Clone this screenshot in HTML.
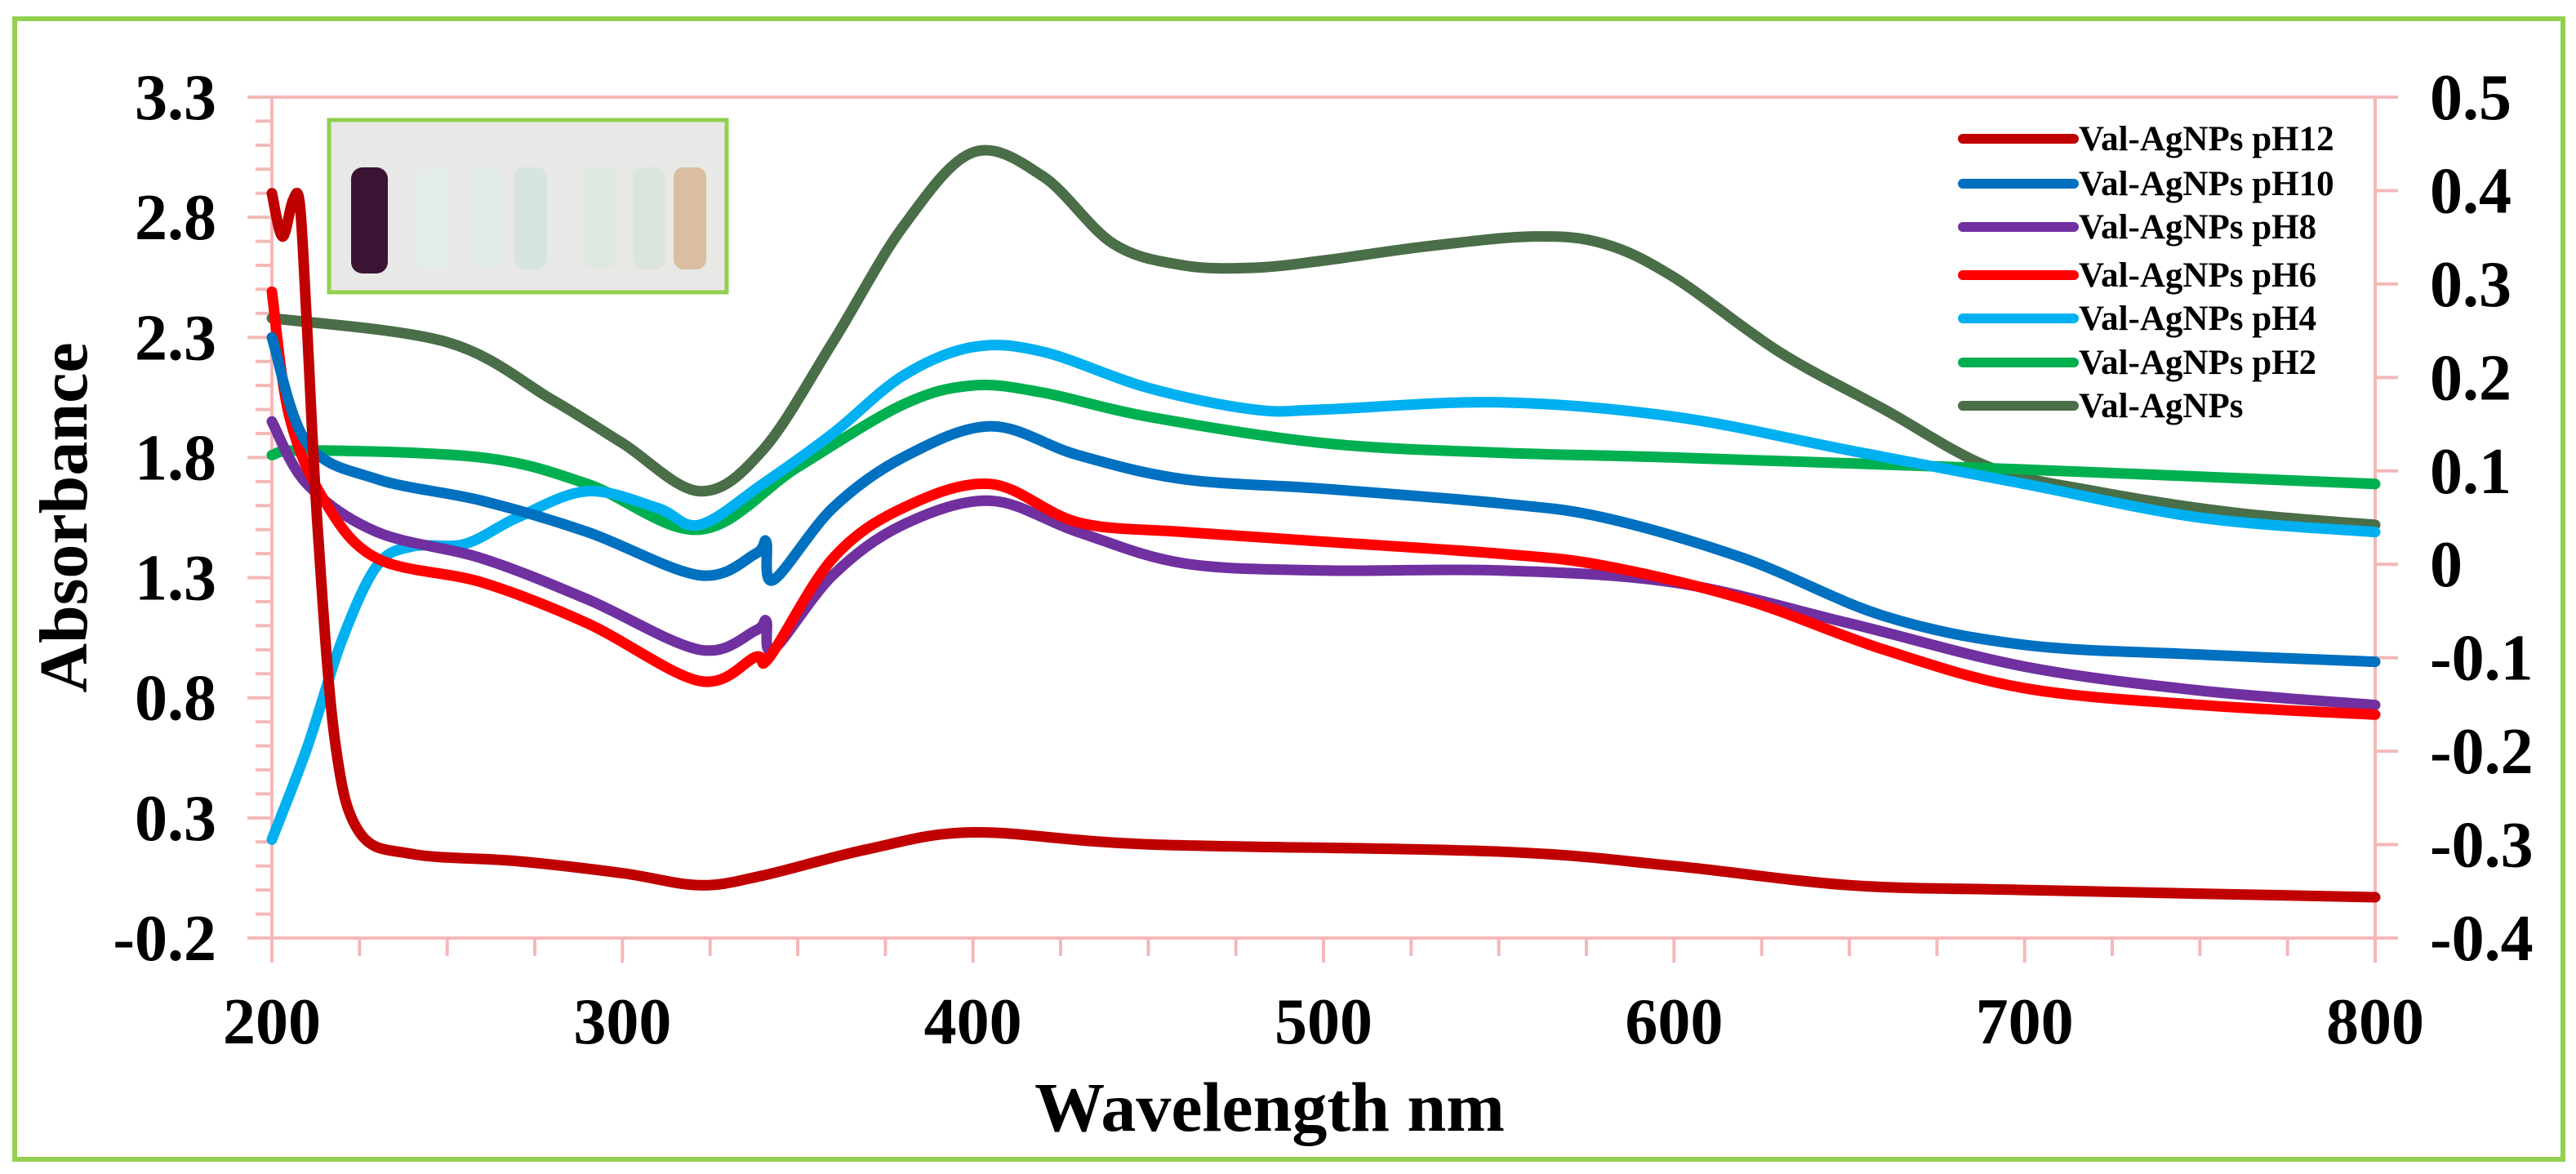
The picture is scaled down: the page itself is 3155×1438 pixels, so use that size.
<!DOCTYPE html>
<html><head><meta charset="utf-8"><style>
html,body{margin:0;padding:0;background:#fff}
svg{display:block}
text{font-family:"Liberation Serif",serif;font-weight:bold;fill:#000}
</style></head><body>
<svg id="chart" width="3155" height="1438" viewBox="0 0 3155 1438">
<rect x="18" y="23" width="3121" height="1397" fill="#fff" stroke="#92d050" stroke-width="6"/>
<g id="axes"></g>
<g id="series"></g>
<g>
<rect x="403" y="147" width="487" height="211" fill="#e8e8e6" stroke="#92d050" stroke-width="5"/>
<rect x="430" y="205" width="45" height="130" rx="14" fill="#3a1433"/>
<rect x="510" y="205" width="40" height="125" rx="12" fill="#e4ecea"/>
<rect x="575" y="205" width="40" height="125" rx="12" fill="#e2eae6"/>
<rect x="630" y="205" width="40" height="125" rx="12" fill="#d6e4df"/>
<rect x="715" y="205" width="40" height="125" rx="12" fill="#e0e8e2"/>
<rect x="775" y="205" width="40" height="125" rx="12" fill="#dbe5dc"/>
<rect x="825" y="205" width="40" height="125" rx="12" fill="#d9bfa0"/>
</g>
<g id="legend"></g>
<text x="1555" y="1385" font-size="86" text-anchor="middle">Wavelength nm</text>
<text transform="translate(106,634) rotate(-90)" font-size="84" text-anchor="middle">Absorbance</text>
</svg>
<script>
const wl12=[200,203,206,208,210,213,218,225,240,270,300,322,340,370,400,450,550,600,650,700,800];
const ab12=[2.90,2.72,2.87,2.85,2.35,1.52,0.62,0.24,0.15,0.12,0.07,0.02,0.06,0.17,0.24,0.19,0.16,0.10,0.02,0.00,-0.03];
const wl10=[200,210,230,260,290,322,338,341,343,360,380,405,430,460,500,550,580,620,660,700,750,800];
const ab10=[2.30,1.86,1.71,1.62,1.49,1.31,1.40,1.45,1.29,1.59,1.80,1.93,1.81,1.71,1.67,1.61,1.55,1.38,1.14,1.02,0.98,0.95];
const wl8=[200,210,230,260,290,322,338,341,343,360,380,405,430,460,500,550,600,650,700,750,800];
const ab8=[1.95,1.69,1.49,1.38,1.21,1.00,1.08,1.12,1.00,1.31,1.52,1.62,1.49,1.36,1.33,1.33,1.28,1.11,0.93,0.83,0.77];
const wl6=[200,205,215,230,260,290,322,338,342,360,380,405,430,460,500,550,580,620,660,700,750,800];
const ab6=[2.49,1.97,1.62,1.38,1.28,1.11,0.87,0.97,0.97,1.38,1.59,1.69,1.53,1.49,1.45,1.40,1.35,1.21,1.00,0.84,0.77,0.73];
const wl4=[200,210,220,230,240,255,270,290,310,322,340,360,380,400,420,450,480,500,550,600,650,700,750,800];
const ab4=[0.21,0.59,1.04,1.35,1.43,1.44,1.55,1.66,1.59,1.52,1.69,1.90,2.14,2.26,2.24,2.09,2.00,2.00,2.03,1.97,1.83,1.69,1.55,1.49];
const wl2=[200,210,260,290,322,350,380,400,420,450,500,550,600,700,800];
const ab2=[1.81,1.83,1.80,1.69,1.50,1.76,2.02,2.10,2.07,1.97,1.86,1.82,1.80,1.75,1.69];
const wl0=[200,250,280,300,322,340,360,380,400,420,440,460,480,500,530,560,580,600,630,660,690,720,760,800];
const ab0=[2.38,2.28,2.04,1.86,1.66,1.83,2.28,2.76,3.07,2.97,2.69,2.60,2.59,2.62,2.68,2.72,2.69,2.55,2.24,2.00,1.76,1.66,1.57,1.52];
const xTicks=[200,300,400,500,600,700,800];
const yTicks=["3.3","2.8","2.3","1.8","1.3","0.8","0.3","-0.2"];
const y2Ticks=["0.5","0.4","0.3","0.2","0.1","0","-0.1","-0.2","-0.3","-0.4"];
const names=["Val-AgNPs pH12","Val-AgNPs pH10","Val-AgNPs pH8","Val-AgNPs pH6","Val-AgNPs pH4","Val-AgNPs pH2","Val-AgNPs"];
const colors=["#c00000","#0070c0","#7030a0","#ff0000","#00b0f0","#00b050","#4a6e48"];

const L=333,R=2909,T=119,B=1149,NS="http://www.w3.org/2000/svg";
const xs=v=>L+(v-200)/600*(R-L);
const ys=v=>T+(3.3-v)/3.5*(B-T);
const y2s=v=>T+(0.5-v)/0.9*(B-T);
function mk(tag,at,parent){const e=document.createElementNS(NS,tag);for(const k in at)e.setAttribute(k,at[k]);parent.appendChild(e);return e;}
const axes=document.getElementById('axes');
const pink="#f4b8b8";
let e;
e=mk('rect',{x:L,y:T,width:R-L,height:B-T,fill:'none',stroke:pink,'stroke-width':4},axes);


for(let v=200;v<=800;v+=25){e=mk('line',{x1:xs(v),x2:xs(v),y1:B,y2:B+(v%100===0?30:22),stroke:pink,'stroke-width':4},axes);

}
for(let i=0;i<=35;i++){const v=-0.2+i*0.1;e=mk('line',{x1:L-(i%5===0?30:20),x2:L,y1:ys(v),y2:ys(v),stroke:pink,'stroke-width':4},axes);

}
for(let i=0;i<=9;i++){const v=-0.4+i*0.1;e=mk('line',{x1:R,x2:R+28,y1:y2s(v),y2:y2s(v),stroke:pink,'stroke-width':4},axes);

}
xTicks.forEach(v=>{e=mk('text',{x:xs(v),y:1278,'font-size':80,'text-anchor':'middle'},axes);e.textContent=v;

});
yTicks.forEach(s=>{e=mk('text',{x:265,y:ys(parseFloat(s))+27,'font-size':80,'text-anchor':'end'},axes);e.textContent=s;

});
y2Ticks.forEach(s=>{e=mk('text',{x:2976,y:y2s(parseFloat(s))+27,'font-size':80,'text-anchor':'start'},axes);e.textContent=s;

});
function path(wl,ab){const p=wl.map((w,i)=>[xs(w),ys(ab[i])]);let d='M'+p[0][0]+','+p[0][1];
for(let i=0;i<p.length-1;i++){const p0=p[Math.max(0,i-1)],p1=p[i],p2=p[i+1],p3=p[Math.min(p.length-1,i+2)];
const c1=[p1[0]+(p2[0]-p0[0])/6,p1[1]+(p2[1]-p0[1])/6],c2=[p2[0]-(p3[0]-p1[0])/6,p2[1]-(p3[1]-p1[1])/6];
d+=' C'+c1+' '+c2+' '+p2;}return d;}
const sg=document.getElementById('series');
const data=[[wl0,ab0,6,'series-val-agnps'],[wl2,ab2,5,'series-ph2'],[wl4,ab4,4,'series-ph4'],[wl8,ab8,2,'series-ph8'],[wl6,ab6,3,'series-ph6'],[wl10,ab10,1,'series-ph10'],[wl12,ab12,0,'series-ph12']];
data.forEach(d=>{e=mk('path',{d:path(d[0],d[1]),fill:'none',stroke:colors[d[2]],'stroke-width':13,'stroke-linejoin':'round','stroke-linecap':'round'},sg);

});
const lg=document.getElementById('legend');
const ly=[170,225,278,337,390,444,497];
names.forEach((n,i)=>{e=mk('line',{x1:2404,x2:2540,y1:ly[i],y2:ly[i],stroke:colors[i],'stroke-width':12,'stroke-linecap':'round'},lg);


e=mk('text',{x:2546,y:ly[i]+14,'font-size':43},lg);e.textContent=n;

});
</script>
</body></html>
